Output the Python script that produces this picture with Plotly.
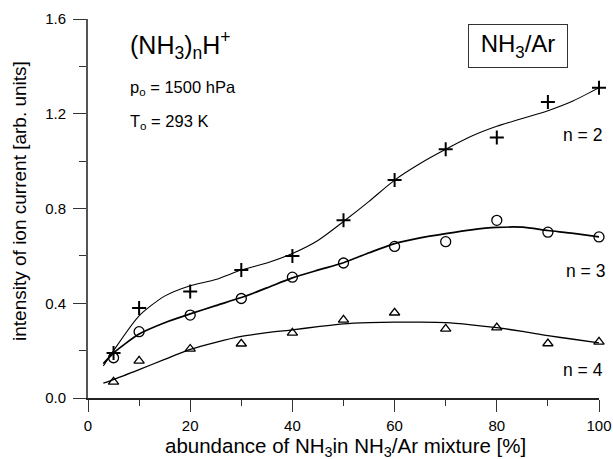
import plotly.graph_objects as go

x_pts = [5, 10, 20, 30, 40, 50, 60, 70, 80, 90, 100]
n2_vals = [0.19, 0.38, 0.45, 0.54, 0.60, 0.75, 0.92, 1.05, 1.10, 1.25, 1.31]
n3_vals = [0.17, 0.28, 0.35, 0.42, 0.51, 0.57, 0.64, 0.66, 0.75, 0.70, 0.68]
n4_vals = [0.068, 0.157, 0.207, 0.229, 0.275, 0.33, 0.36, 0.292, 0.297, 0.23, 0.237]

fit_x = [3, 5, 10, 15, 20, 25, 30, 35, 40, 45, 50, 55, 60, 65, 70, 75, 80, 85, 90, 95, 100]
fit_n2 = [0.135, 0.20, 0.347, 0.43, 0.474, 0.50, 0.54, 0.57, 0.61, 0.665, 0.745, 0.83, 0.92,
          0.99, 1.05, 1.105, 1.147, 1.18, 1.213, 1.255, 1.31]
fit_n3 = [0.145, 0.19, 0.27, 0.318, 0.355, 0.39, 0.424, 0.465, 0.507, 0.54, 0.571, 0.613, 0.652,
          0.676, 0.694, 0.71, 0.72, 0.721, 0.707, 0.695, 0.68]
fit_n4 = [0.063, 0.078, 0.12, 0.163, 0.205, 0.235, 0.26, 0.276, 0.288, 0.301, 0.313, 0.318, 0.32,
          0.32, 0.318, 0.309, 0.297, 0.281, 0.263, 0.248, 0.233]

x_ticks = [0, 20, 40, 60, 80, 100]
y_ticks = [0.0, 0.4, 0.8, 1.2, 1.6]
y_tick_labels = ["0.0", "0.4", "0.8", "1.2", "1.6"]

FONT = "Liberation Sans, Arial, sans-serif"

fig = go.Figure()

for fy, w in [(fit_n2, 1.1), (fit_n3, 1.7), (fit_n4, 1.3)]:
    fig.add_trace(go.Scatter(x=fit_x, y=fy, mode="lines",
                             line=dict(color="black", width=w, shape="spline", smoothing=0.7),
                             showlegend=False, hoverinfo="skip"))

fig.add_trace(go.Scatter(x=x_pts, y=n2_vals, mode="markers",
                         marker=dict(symbol="cross-thin", size=10, color="black",
                                     line=dict(color="black", width=2)),
                         showlegend=False, cliponaxis=False))
fig.add_trace(go.Scatter(x=x_pts, y=n3_vals, mode="markers",
                         marker=dict(symbol="circle-open", size=10, color="black",
                                     line=dict(color="black", width=1.3)),
                         showlegend=False, cliponaxis=False))
fig.add_trace(go.Scatter(x=x_pts, y=n4_vals, mode="markers",
                         marker=dict(symbol="triangle-up-open", size=9, color="black",
                                     line=dict(color="black", width=1.3)),
                         showlegend=False, cliponaxis=False))

fig.update_layout(
    width=613, height=459,
    margin=dict(l=88, r=14, t=19, b=61),
    paper_bgcolor="white", plot_bgcolor="white",
    font=dict(family=FONT, size=15, color="black"),
    xaxis=dict(range=[0, 100], showgrid=False, zeroline=False, automargin=False,
               showline=True, linecolor="#222", linewidth=1.5,
               tickmode="array", tickvals=x_ticks, ticks="outside", ticklen=12,
               tickcolor="#333", tickwidth=1.2, ticklabelstandoff=1,
               minor=dict(dtick=10, ticks="outside", ticklen=6, tickcolor="#333", tickwidth=1.2),
               tickfont=dict(size=15)),
    yaxis=dict(range=[0, 1.6], showgrid=False, zeroline=False, automargin=False,
               showline=True, linecolor="#555", linewidth=2,
               tickmode="array", tickvals=y_ticks, ticktext=y_tick_labels,
               ticks="outside", ticklen=13, tickcolor="#333", tickwidth=1.2, ticklabelstandoff=4,
               minor=dict(dtick=0.2, ticks="outside", ticklen=7, tickcolor="#333", tickwidth=1.2),
               tickfont=dict(size=15)),
)

# axis titles
fig.add_annotation(xref="paper", yref="paper", x=0.503, y=-0.129, yanchor="middle",
                   text="abundance of NH<sub>3</sub>in NH<sub>3</sub>/Ar mixture [%]",
                   font=dict(size=20.5), showarrow=False)
fig.add_annotation(xref="paper", yref="paper", x=-0.133, y=0.52, xanchor="center",
                   textangle=-90, text="intensity of ion current [arb. units]",
                   font=dict(size=19), showarrow=False)

ann = [
    dict(x=7.8, y=1.49, text="(NH<sub>3</sub>)<sub>n</sub>H<sup>+</sup>", xanchor="left",
         font=dict(size=25)),
    dict(x=7.8, y=1.31, text="p<sub>o</sub> = 1500 hPa", xanchor="left", font=dict(size=16.5)),
    dict(x=7.8, y=1.164, text="T<sub>o</sub> = 293 K", xanchor="left", font=dict(size=16.5)),
    dict(x=84.1, y=1.484, text="NH<sub>3</sub>/Ar", font=dict(size=24), width=88, height=32,
         bordercolor="#333", borderwidth=1, borderpad=5, bgcolor="white"),
    dict(x=96.7, y=1.109, text="n = 2", font=dict(size=17.5)),
    dict(x=97.3, y=0.538, text="n = 3", font=dict(size=17.5)),
    dict(x=96.9, y=0.119, text="n = 4", font=dict(size=17.5)),
]
for a in ann:
    fig.add_annotation(xref="x", yref="y", showarrow=False, **a)

fig.write_html("out.html", config={"displayModeBar": False},
               post_script="document.body.style.margin='0';document.body.style.padding='0';")
